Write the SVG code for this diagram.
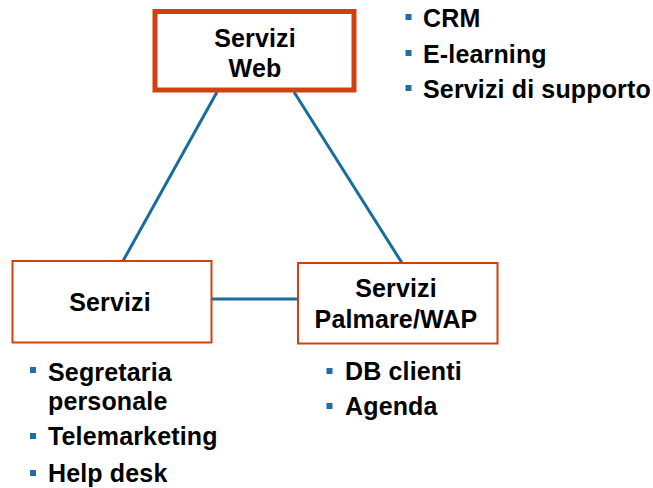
<svg xmlns="http://www.w3.org/2000/svg" width="653" height="488" viewBox="0 0 653 488">
<style>
.box{fill:#fff;stroke:#D2400F}
.t{font-family:"Liberation Sans",Arial,sans-serif;font-weight:bold;font-size:25px;letter-spacing:0.15px;fill:#000}
.c{text-anchor:middle}
.b{fill:#1E6FA6}
.ln{stroke:#1A6B9E;stroke-width:3;fill:none}
</style>
<g id="connectors">
<line class="ln" x1="217" y1="92" x2="123" y2="261"/>
<line class="ln" x1="294" y1="92" x2="402" y2="263"/>
<line class="ln" x1="212" y1="299" x2="298" y2="299"/>
</g>
<g id="web">
<rect class="box" x="155" y="11.5" width="199" height="78.5" stroke-width="5"/>
<text class="t c" x="255" y="46.5">Servizi</text>
<text class="t c" x="255" y="77">Web</text>
</g>
<g id="servizi">
<rect class="box" x="12.5" y="261" width="199" height="81.5" stroke-width="2"/>
<text class="t c" x="110" y="311">Servizi</text>
</g>
<g id="palmare">
<rect class="box" x="298" y="263" width="199.5" height="80.5" stroke-width="2"/>
<text class="t c" x="396" y="296.5">Servizi</text>
<text class="t c" x="396" y="328">Palmare/WAP</text>
</g>
<g id="list-web">
<rect class="b" x="405.5" y="14" width="6" height="6"/>
<text class="t" x="423" y="27">CRM</text>
<rect class="b" x="405.5" y="50" width="6" height="6"/>
<text class="t" x="423" y="63">E-learning</text>
<rect class="b" x="405.5" y="85" width="6" height="6"/>
<text class="t" x="423" y="98">Servizi di supporto</text>
</g>
<g id="list-servizi">
<rect class="b" x="30" y="367" width="6" height="6"/>
<text class="t" x="48" y="381">Segretaria</text>
<text class="t" x="48" y="410">personale</text>
<rect class="b" x="30" y="433" width="6" height="6"/>
<text class="t" x="48" y="445">Telemarketing</text>
<rect class="b" x="30" y="470" width="6" height="6"/>
<text class="t" x="48" y="481.5">Help desk</text>
</g>
<g id="list-palmare">
<rect class="b" x="326.5" y="368" width="6" height="6"/>
<text class="t" x="345" y="380">DB clienti</text>
<rect class="b" x="326.5" y="403" width="6" height="6"/>
<text class="t" x="345" y="415">Agenda</text>
</g>
</svg>
